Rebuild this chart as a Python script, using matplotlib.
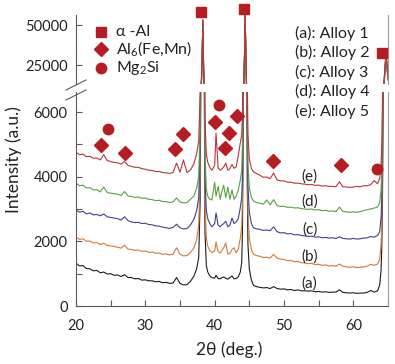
import matplotlib
matplotlib.use("Agg")
import matplotlib.pyplot as plt
from matplotlib.lines import Line2D

plt.rcParams['font.family'] = ['Lato', 'DejaVu Sans']
plt.rcParams['mathtext.fontset'] = 'custom'
plt.rcParams['mathtext.rm'] = 'Lato'

# ---------------- data ----------------
tt_a = [20.0, 20.5, 21.0, 21.5, 22.0, 22.5, 23.0, 23.5, 24.0, 24.5, 25.0, 25.5,
        26.0, 26.5, 27.0, 27.5, 28.0, 28.5, 29.0, 29.5, 30.0, 30.5, 31.0, 31.5,
        32.0, 32.5, 33.0, 33.5, 34.0, 34.5, 35.0, 35.5, 36.0, 36.5]
tt_b = [37.0, 37.4, 37.7, 37.9, 38.0, 38.1, 38.2, 38.3, 38.4, 38.5, 38.6, 38.8,
        39.0, 39.3, 39.6]
tt_c = [40.0, 40.2, 40.5, 40.8, 41.0, 41.3, 41.6, 41.9, 42.2, 42.5, 42.8, 43.1, 43.4]
tt_d = [43.7, 43.9, 44.0, 44.1, 44.2, 44.3, 44.4, 44.5, 44.6, 44.7, 44.8, 45.0,
        45.3, 45.6, 46.0]
tt_e = [46.5, 47.0, 47.5, 48.0, 48.5, 49.0, 49.5, 50.0, 50.5, 51.0, 51.5, 52.0,
        52.5, 53.0, 53.5, 54.0, 54.5, 55.0, 55.5, 56.0, 56.5, 57.0, 57.5, 58.0,
        58.5, 59.0, 59.5, 60.0, 60.5, 61.0, 61.5, 62.0, 62.5, 63.0, 63.5]
tt_f = [63.8, 64.0, 64.1, 64.2, 64.3, 64.4, 64.5, 64.6, 64.7, 64.8, 64.9, 65.0]
two_theta = tt_a + tt_b + tt_c + tt_d + tt_e + tt_f

alloy1 = ([1330, 1240, 1250, 1160, 1150, 1090, 1100, 1030, 1050, 990, 1000, 950,
           960, 910, 970, 880, 880, 840, 850, 800, 810, 780, 780, 750,
           760, 720, 730, 700, 710, 880, 700, 650, 660, 760]
          + [920, 1150, 1500, 3200, 6500, 14500, 31000, 52500, 23000, 7000, 2300, 1250,
             1050, 930, 880]
          + [860, 950, 850, 840, 870, 900, 860, 830, 880, 930, 840, 850, 900]
          + [1050, 1350, 2200, 4800, 11000, 29000, 57000, 30000, 10000, 3800, 1900, 1150,
             800, 640, 600]
          + [580, 560, 570, 540, 600, 540, 520, 530, 500, 510, 480, 500,
             470, 470, 460, 470, 440, 450, 430, 440, 420, 430, 430, 500,
             420, 410, 400, 410, 390, 400, 400, 420, 480, 430, 470]
          + [650, 1100, 1800, 3200, 6000, 10500, 17000, 24000, 27500, 26000, 21000, 16000])

alloy2 = ([2130, 2060, 2080, 2000, 2010, 1950, 1960, 1900, 1940, 1870, 1860, 1840,
           1820, 1790, 1880, 1760, 1750, 1720, 1730, 1690, 1700, 1660, 1670, 1630,
           1640, 1600, 1610, 1580, 1600, 1800, 1600, 1550, 1560, 1650]
          + [1800, 2050, 2500, 4100, 7400, 15400, 32000, 53000, 24000, 8000, 3200, 2100,
             1850, 1720, 1650]
          + [1700, 1980, 1680, 1640, 1700, 1800, 1950, 1600, 1620, 1750, 1800, 1650, 1750]
          + [2100, 2450, 3200, 5800, 12000, 30000, 56500, 31000, 11000, 4800, 2900, 2100,
             1750, 1600, 1560]
          + [1540, 1500, 1510, 1480, 1600, 1480, 1450, 1440, 1400, 1410, 1370, 1380,
             1340, 1330, 1310, 1320, 1280, 1290, 1260, 1270, 1240, 1250, 1230, 1300,
             1230, 1210, 1200, 1210, 1190, 1200, 1210, 1230, 1290, 1260, 1300]
          + [1450, 1900, 2600, 4000, 6800, 11300, 17800, 24800, 28300, 26800, 21800, 16800])

alloy3 = ([2970, 2900, 2930, 2850, 2880, 2820, 2830, 2790, 2850, 2760, 2740, 2720,
           2700, 2660, 2760, 2640, 2600, 2580, 2590, 2550, 2560, 2520, 2510, 2480,
           2470, 2440, 2420, 2400, 2430, 2530, 2420, 2380, 2400, 2500]
          + [2680, 2950, 3350, 4900, 8200, 16200, 32500, 52000, 24500, 8800, 4000, 2950,
             2700, 2550, 2450]
          + [2550, 2880, 2500, 2450, 2500, 2550, 2620, 2450, 2500, 2720, 2550, 2600, 2700]
          + [3050, 3350, 4000, 6600, 12800, 30500, 56000, 31500, 11800, 5600, 3700, 2900,
             2550, 2420, 2390]
          + [2370, 2340, 2350, 2330, 2450, 2300, 2260, 2270, 2230, 2240, 2200, 2210,
             2180, 2170, 2150, 2160, 2130, 2140, 2110, 2120, 2100, 2110, 2090, 2140,
             2090, 2080, 2070, 2090, 2070, 2080, 2100, 2110, 2150, 2130, 2180]
          + [2300, 2750, 3400, 4800, 7600, 12100, 18600, 25600, 29000, 27500, 22500, 17500])

alloy4 = ([3800, 3720, 3740, 3650, 3660, 3590, 3600, 3530, 3680, 3510, 3490, 3470,
           3460, 3420, 3540, 3400, 3390, 3360, 3370, 3330, 3340, 3300, 3290, 3260,
           3270, 3230, 3230, 3200, 3220, 3340, 3220, 3190, 3200, 3300]
          + [3400, 3650, 4000, 5500, 8800, 16800, 33000, 51500, 25000, 9500, 4700, 3600,
             3400, 3300, 3280]
          + [3830, 3400, 3700, 3300, 3500, 3740, 3350, 3680, 3300, 3590, 3300, 3400, 3580]
          + [3900, 4200, 4900, 7400, 13600, 31000, 55500, 32000, 12500, 6300, 4400, 3650,
             3350, 3250, 3200]
          + [3180, 3150, 3280, 3130, 3290, 3110, 3080, 3090, 3050, 3060, 3030, 3040,
             3010, 3000, 2990, 3000, 2970, 2980, 2950, 2960, 2930, 2940, 2920, 3060,
             2920, 2910, 2900, 2910, 2900, 2920, 2950, 2980, 3000, 3030, 3060]
          + [3200, 3600, 4200, 5600, 8400, 12900, 19400, 26400, 29800, 28300, 23300, 18300])

alloy5 = ([4760, 4680, 4700, 4620, 4630, 4570, 4580, 4520, 4680, 4500, 4470, 4440,
           4430, 4390, 4470, 4350, 4320, 4290, 4290, 4250, 4230, 4200, 4190, 4160,
           4160, 4130, 4120, 4100, 4130, 4420, 4140, 4520, 4130, 4200]
          + [4400, 4700, 5100, 6500, 9800, 17800, 34000, 53500, 26000, 10500, 5800, 4700,
             4450, 4280, 4200]
          + [4350, 5350, 4270, 4200, 4230, 4300, 4420, 4200, 4250, 4380, 4260, 4300, 4650]
          + [5050, 5300, 5900, 8400, 14600, 32000, 56000, 33000, 13500, 7200, 5300, 4550,
             4250, 4150, 4100]
          + [4050, 3980, 3990, 3940, 4110, 3900, 3870, 3870, 3830, 3830, 3800, 3800,
             3780, 3770, 3750, 3760, 3730, 3740, 3710, 3720, 3700, 3700, 3690, 3840,
             3690, 3680, 3670, 3680, 3700, 3690, 3720, 3720, 3750, 3880, 3780]
          + [3950, 4400, 5000, 6400, 9200, 13700, 20200, 27200, 30500, 29000, 24000, 19000])

series = [alloy1, alloy2, alloy3, alloy4, alloy5]
series_colors = ['#1c1c1c', '#cf7a3c', '#3c4190', '#5a9f42', '#b9343b']
curve_labels = ['(a)', '(b)', '(c)', '(d)', '(e)']
curve_label_x = [53.7, 53.7, 53.7, 53.7, 53.7]
curve_label_y = [680, 1515, 2380, 3220, 4020]

# phase markers (2theta, intensity)
al_x = [38.0, 44.2, 64.2]
al_y = [57900, 59800, 32900]
al6_x = [23.6, 27.1, 34.3, 35.4, 40.1, 41.5, 42.1, 43.2, 48.4, 58.2]
al6_y = [4980, 4730, 4860, 5320, 5690, 4890, 5350, 5880, 4490, 4360]
mg2si_x = [24.6, 40.6, 63.4]
mg2si_y = [5475, 6220, 4240]

legend_phase = ['\u03b1 -Al', r'Al$_\mathregular{6}$(Fe,Mn)', r'Mg$_\mathregular{2}$Si']
legend_alloys = ['(a): Alloy 1', '(b): Alloy 2', '(c): Alloy 3', '(d): Alloy 4', '(e): Alloy 5']

x_ticks = [20, 30, 40, 50, 60]
low_ticks = [0, 2000, 4000, 6000]
up_ticks = [25000, 50000]

# ---------------- figure ----------------
W, H = 395, 364
fig = plt.figure(figsize=(W / 100, H / 100), dpi=100)

def fx(px):
    return px / W

def fy(py):
    return 1 - py / H

L, R = 76, 388
ax_lo = fig.add_axes([fx(L), fy(306), fx(R - L), (306 - 92) / H])
ax_up = fig.add_axes([fx(L), fy(84), fx(R - L), (84 - 15) / H])

mcol = '#b51d22'
spine_col = '#5a5a5a'

for ax in (ax_lo, ax_up):
    for y, c in zip(series, series_colors):
        ax.plot(two_theta, y, color=c, lw=0.8)
    ax.set_xlim(20, 65)
    ax.spines['top'].set_visible(False)
    for s in ('left', 'right', 'bottom'):
        ax.spines[s].set_color(spine_col)
        ax.spines[s].set_linewidth(0.8)
    ax.spines['right'].set_color('#9a9a9a')
    ax.tick_params(direction='in', length=4, width=0.8, colors=spine_col,
                   labelcolor='#222222', labelsize=10.5, pad=6)

ax_lo.set_ylim(0, 6620)
ax_up.set_ylim(13500, 56250)
ax_up.spines['bottom'].set_visible(False)
ax_up.tick_params(axis='x', bottom=False, labelbottom=False)

ax_lo.set_xticks(x_ticks)
ax_lo.set_xticks([25, 35, 45, 55, 65], minor=True)
ax_lo.set_yticks(low_ticks)
ax_lo.set_yticks([1000, 3000, 5000], minor=True)
ax_lo.tick_params(which='minor', direction='in', length=4, width=0.8, colors=spine_col)
ax_lo.tick_params(axis='x', pad=9)
ax_up.set_yticks(up_ticks)

# phase markers
ax_up.plot(al_x, al_y, 's', color=mcol, ms=6.5, clip_on=False, zorder=5)
ax_lo.plot(al6_x, al6_y, 'D', color=mcol, ms=7, clip_on=False, zorder=5)
ax_lo.plot(mg2si_x, mg2si_y, 'o', color=mcol, ms=7.5, clip_on=False, zorder=5)

# curve labels
for lab, x, y in zip(curve_labels, curve_label_x, curve_label_y):
    ax_lo.text(x, y, lab, fontsize=11, ha='center', va='center', color='#222222')

# phase legend
for (my, mk, ms), txt in zip([(32, 's', 6.5), (49, 'D', 7), (68, 'o', 7.5)], legend_phase):
    fig.add_artist(Line2D([fx(101)], [fy(my)], marker=mk, color=mcol, ms=ms,
                          transform=fig.transFigure))
    fig.text(fx(116), fy(my), txt, fontsize=11.5, va='center', ha='left', color='#222222')

# alloy legend
for i, txt in enumerate(legend_alloys):
    fig.text(fx(295), fy(33 + 19.5 * i), txt, fontsize=11.5, va='center', ha='left',
             color='#222222')

# axis labels
fig.text(fx(14), fy(160), 'Intensity (a.u.)', rotation=90, fontsize=12.5,
         ha='center', va='center', color='#222222')
fig.text(fx(229), fy(350), '2\u03b8 (deg.)', fontsize=12.5, ha='center', va='center',
         color='#222222')

# break marks
for y0 in (90, 100):
    fig.add_artist(Line2D([fx(66), fx(86)], [fy(y0), fy(y0 - 10)], color=spine_col,
                          lw=0.8, transform=fig.transFigure))

fig.savefig('out.png', dpi=100)
